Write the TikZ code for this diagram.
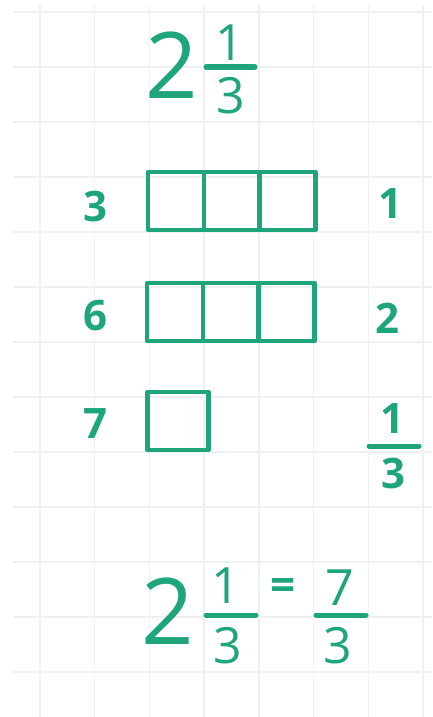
\documentclass[tikz,border=0pt]{standalone}
\usepackage{fontspec}
\setmainfont{Open Sans}
\usetikzlibrary{positioning, calc}
\definecolor{inkgreen}{HTML}{1FA57B}
\definecolor{gridfaint}{HTML}{F0F0F3}
\tikzset{
  digit/.style={text=inkgreen, inner sep=0pt, font=\fontsize{42}{42}\selectfont\bfseries},
  bigdigit/.style={digit, font=\fontsize{92}{92}\selectfont},
  fracdigit/.style={digit, font=\fontsize{50}{50}\selectfont},
  cell/.style={draw=inkgreen, line width=4.5pt, line join=round, outer sep=0pt,
               minimum width=55.7pt, minimum height=58pt, inner sep=0pt},
  fracbar/.style={draw=inkgreen, line width=5pt, line cap=round},
}
\newcommand{\fracbar}[3]{\draw[fracbar] (#1,#3) -- (#2,#3);}

\begin{document}
\begin{tikzpicture}[x=1pt, y=-1pt]
  \useasboundingbox (0,0) rectangle (432,717);
  \fill[white] (0,0) rectangle (432,717);
  % squared paper
  \foreach \gx in {40,94.7,...,430} \draw[gridfaint, line width=1.4pt] (\gx,5) -- (\gx,717);
  \foreach \gy in {12,67,...,717} \draw[gridfaint, line width=1.4pt] (13,\gy) -- (432,\gy);

  % mixed number on top
  \node[bigdigit] (top2) at (172,65) {2};
  \node[fracdigit] (topnum) at (230,43) {1};
  \node[fracdigit] (topden) at (231,96) {3};
  \fracbar{206}{255}{67}

  % three thirds make one whole
  \node[digit] (lab3) at (95,206) {3};
  \node[cell] (r1a) at (176,201) {};
  \node[cell, right=0pt of r1a] (r1b) {};
  \node[cell, right=0pt of r1b] (r1c) {};
  \node[digit] (whole1) at (390,204) {1};

  % six thirds make two wholes
  \node[digit] (lab6) at (95,316) {6};
  \node[cell] (r2a) at (175,312) {};
  \node[cell, right=0pt of r2a] (r2b) {};
  \node[cell, right=0pt of r2b] (r2c) {};
  \node[digit] (whole2) at (387,318) {2};

  % one more third
  \node[digit] (lab7) at (95,424) {7};
  \node[cell, minimum width=61pt] (r3a) at (178,421) {};
  \node[digit] (restnum) at (392,419) {1};
  \node[digit] (restden) at (393,473) {3};
  \fracbar{369}{419}{446}

  % result
  \node[bigdigit] (res2) at (168,611) {2};
  \node[fracdigit] (resnum) at (226,586) {1};
  \node[fracdigit] (resden) at (228,646) {3};
  \fracbar{206}{256}{615}
  \node[digit, font=\fontsize{44}{44}\selectfont\bfseries] (eq) at (283,589) {=};
  \node[fracdigit] (impnum) at (340,588) {7};
  \node[fracdigit] (impden) at (338,646) {3};
  \fracbar{316}{366}{615}
\end{tikzpicture}
\end{document}
